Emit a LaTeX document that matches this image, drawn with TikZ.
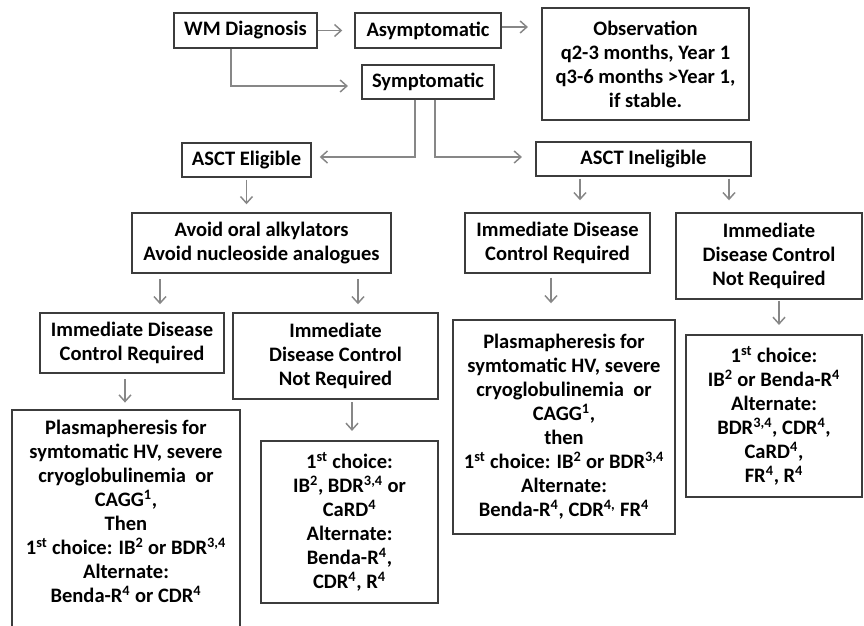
\documentclass[tikz,border=0pt]{standalone}
\usepackage{fontspec}
\setmainfont{Carlito}
\usetikzlibrary{arrows.meta}
\definecolor{arrgray}{RGB}{135,135,135}
\definecolor{boxgray}{RGB}{60,60,60}
\newcommand\sups[1]{\textsuperscript{#1}}
% box: name, x1, y1, x2, y2, text (pixel coordinates)
\newcommand\bx[6]{\node[boxst, minimum width={(#4-#2)*0.75pt}, minimum height={(#5-#3)*0.75pt}] (#1) at ({(#2+#4)/2},{(#3+#5)/2}) {#6};}
\begin{document}
\begin{tikzpicture}[x=0.75pt,y=-0.75pt,
  txt/.style={inner sep=0pt, align=center, font=\bfseries\fontsize{15.4pt}{18pt}\selectfont},
  boxst/.style={txt, draw=boxgray, line width=1.1pt},
  arr/.style={draw=arrgray, line width=1.1pt, -{Straight Barb[length=5pt,width=9pt,line width=1.1pt]}}]
\useasboundingbox (0,0) rectangle (864,625);
\clip (0,0) rectangle (864,625);

\bx{wm}{174}{13}{317}{48}{WM Diagnosis}
\bx{asym}{355}{13}{501}{48}{Asymptomatic}
\bx{obs}{542}{8}{749}{120}{Observation\\q2-3 months, Year 1\\q3-6 months >Year 1,\\if stable.}
\bx{sym}{362}{65}{494}{99}{Symptomatic}
\bx{elig}{182}{143}{311}{177}{ASCT Eligible}
\bx{inelig}{536}{142}{751}{176}{ASCT Ineligible}
\bx{avoid}{132}{213}{391}{273}{Avoid oral alkylators\\Avoid nucleoside analogues}
\bx{idcrL}{40}{313}{224}{373}{Immediate Disease\\Control Required}
\bx{idcnrL}{233}{313}{438}{399}{Immediate\\Disease Control\\Not Required}
\bx{idcrM}{465}{213}{650}{273}{Immediate Disease\\Control Required}
\bx{idcnrR}{676}{213}{862}{299}{Immediate\\Disease Control\\Not Required}
\bx{plasL}{12}{410}{240}{650}{}
\node[txt] (plasLtxt) at (126,511) {Plasmapheresis for\\symtomatic HV, severe\\cryoglobulinemia\ \ or\\CAGG\sups{1},\\Then\\1\sups{st} choice: IB\sups{2} or BDR\sups{3,4}\\Alternate:\\Benda-R\sups{4} or CDR\sups{4}};
\bx{choiceL}{261}{441}{438}{603}{1\sups{st} choice:\\IB\sups{2}, BDR\sups{3,4} or\\CaRD\sups{4}\\Alternate:\\Benda-R\sups{4},\\CDR\sups{4}, R\sups{4}}
\bx{plasM}{453}{320}{675}{534}{Plasmapheresis for\\symtomatic HV, severe\\cryoglobulinemia\ \ or\\CAGG\sups{1},\\then\\1\sups{st} choice: IB\sups{2} or BDR\sups{3,4}\\Alternate:\\Benda-R\sups{4}, CDR\sups{4,} FR\sups{4}}
\bx{choiceR}{686}{335}{862}{497}{1\sups{st} choice:\\IB\sups{2} or Benda-R\sups{4}\\Alternate:\\BDR\sups{3,4}, CDR\sups{4},\\CaRD\sups{4},\\FR\sups{4}, R\sups{4}}

\coordinate (xwm) at (231,0);
\coordinate (xsl) at (415,0);
\coordinate (xsr) at (435,0);
\coordinate (xa1) at (160,0);
\coordinate (xa2) at (358,0);
\coordinate (xi1) at (580,0);
\coordinate (xi2) at (729,0);
\coordinate (xl1) at (125,0);
\coordinate (xl2) at (352,0);
\coordinate (xm1) at (551,0);
\coordinate (xr1) at (779,0);
\coordinate (yobs) at (0,27);
\coordinate (ysym) at (0,86);
\coordinate (yel) at (0,157);

\draw[arr, shorten >=9pt] (wm.east) -- (asym.west);
\draw[arr, shorten >=10pt] (asym.east |- yobs) -- (obs.west |- yobs);
\draw[arr, shorten >=10pt] (wm.south -| xwm) |- (sym.west |- ysym);
\draw[arr, shorten >=6pt] (sym.south -| xsl) |- (elig.east |- yel);
\draw[arr, shorten >=10pt] (sym.south -| xsr) |- (inelig.west |- yel);
\draw[arr, shorten <=1.5pt, shorten >=6pt] (elig.south) -- (elig.south |- avoid.north);
\draw[arr, shorten <=1.5pt, shorten >=9pt] (inelig.south -| xi1) -- (idcrM.north -| xi1);
\draw[arr, shorten <=1.5pt, shorten >=9pt] (inelig.south -| xi2) -- (idcnrR.north -| xi2);
\draw[arr, shorten <=4pt, shorten >=6pt] (avoid.south -| xa1) -- (idcrL.north -| xa1);
\draw[arr, shorten <=4pt, shorten >=6pt] (avoid.south -| xa2) -- (idcnrL.north -| xa2);
\draw[arr, shorten <=4pt, shorten >=5pt] (idcrL.south -| xl1) -- (plasL.north -| xl1);
\draw[arr, shorten <=2pt, shorten >=7pt] (idcnrL.south -| xl2) -- (choiceL.north -| xl2);
\draw[arr, shorten <=3pt, shorten >=12pt] (idcrM.south -| xm1) -- (plasM.north -| xm1);
\draw[arr, shorten <=1pt, shorten >=7pt] (idcnrR.south -| xr1) -- (choiceR.north -| xr1);
\end{tikzpicture}
\end{document}
